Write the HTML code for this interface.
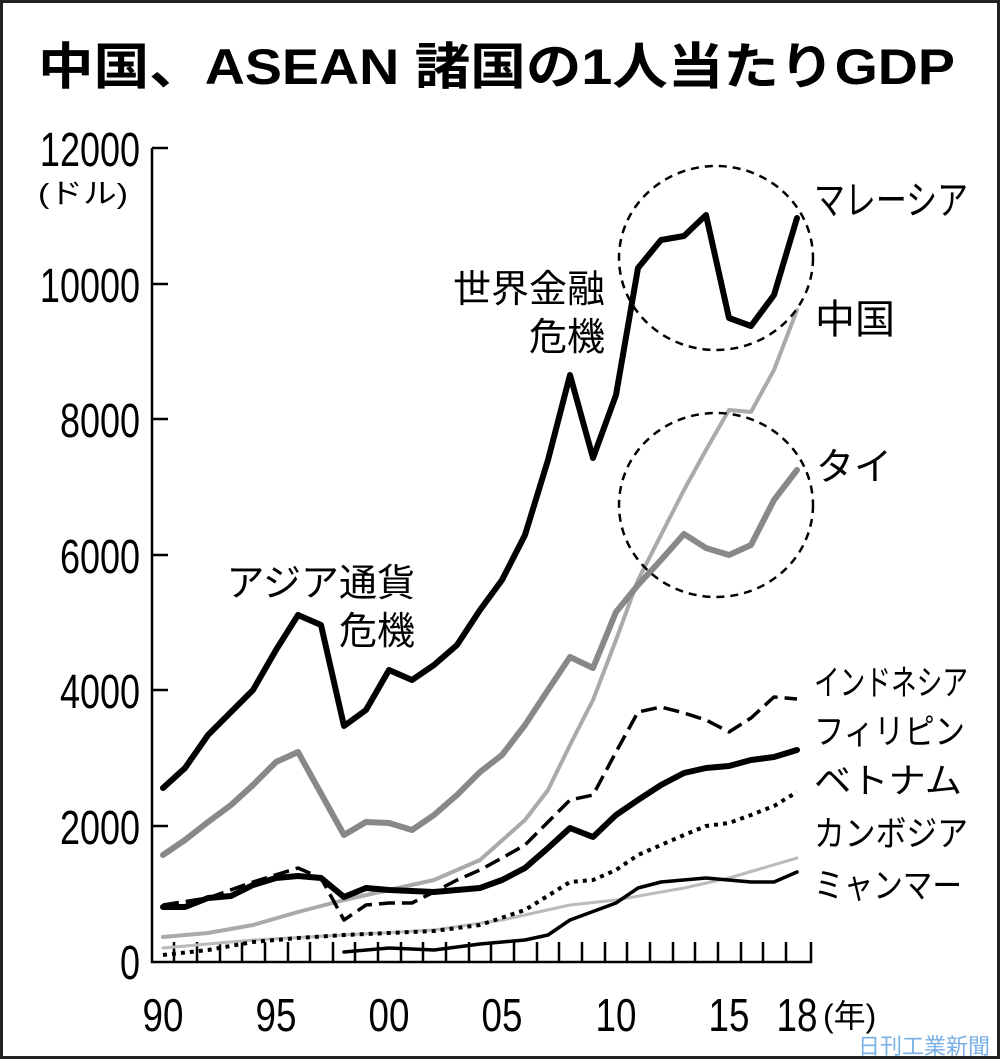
<!DOCTYPE html>
<html><head><meta charset="utf-8"><style>
html,body{margin:0;padding:0;background:#fff}
svg{display:block}
text{font-family:"Liberation Sans","Noto Sans CJK JP",sans-serif;fill:#000}
</style></head><body>
<svg width="1000" height="1062" viewBox="0 0 1000 1062" xmlns="http://www.w3.org/2000/svg">
<rect x="1.5" y="1.5" width="997" height="1056" fill="#fff" stroke="#222" stroke-width="3"/>
<text x="38" y="84" font-size="50" font-weight="bold" textLength="917" lengthAdjust="spacingAndGlyphs">中国、ASEAN 諸国の1人当たりGDP</text>

<g font-size="48" text-anchor="end">
<text x="140" y="166" transform="translate(140 0) scale(0.75 1) translate(-140 0)">12000</text>
<text x="140" y="302" transform="translate(140 0) scale(0.75 1) translate(-140 0)">10000</text>
<text x="140" y="437" transform="translate(140 0) scale(0.75 1) translate(-140 0)">8000</text>
<text x="140" y="573" transform="translate(140 0) scale(0.75 1) translate(-140 0)">6000</text>
<text x="140" y="708" transform="translate(140 0) scale(0.75 1) translate(-140 0)">4000</text>
<text x="140" y="844" transform="translate(140 0) scale(0.75 1) translate(-140 0)">2000</text>
<text x="140" y="979" transform="translate(140 0) scale(0.75 1) translate(-140 0)">0</text>
</g>
<text x="38" y="203" font-size="28" textLength="90" lengthAdjust="spacingAndGlyphs">(ドル)</text>

<g stroke="#000" stroke-width="2.5" fill="none">
<path d="M152 148 V962 H811 V942"/>
<path d="M152 148 H168 M152 284 H168 M152 419 H168 M152 555 H168 M152 690 H168 M152 826 H168"/>
<path d="M174 962v-20M197 962v-20M220 962v-20M242 962v-20M265 962v-20M288 962v-20M310 962v-20M333 962v-20M355 962v-20M378 962v-20M401 962v-20M423 962v-20M446 962v-20M469 962v-20M491 962v-20M514 962v-20M537 962v-20M559 962v-20M582 962v-20M605 962v-20M627 962v-20M650 962v-20M673 962v-20M695 962v-20M718 962v-20M741 962v-20M763 962v-20M786 962v-20"/>
</g>
<g font-size="46" text-anchor="middle">
<text x="163" y="1031" transform="translate(163 0) scale(0.8 1) translate(-163 0)">90</text>
<text x="276" y="1031" transform="translate(276 0) scale(0.8 1) translate(-276 0)">95</text>
<text x="389" y="1031" transform="translate(389 0) scale(0.8 1) translate(-389 0)">00</text>
<text x="502" y="1031" transform="translate(502 0) scale(0.8 1) translate(-502 0)">05</text>
<text x="616" y="1031" transform="translate(616 0) scale(0.8 1) translate(-616 0)">10</text>
<text x="729" y="1031" transform="translate(729 0) scale(0.8 1) translate(-729 0)">15</text>
<text x="797" y="1031" transform="translate(797 0) scale(0.8 1) translate(-797 0)">18</text>
</g>
<text x="823" y="1027" font-size="32">(年)</text>

<g fill="none" stroke-linejoin="round" stroke-linecap="round">
<polyline stroke="#bbb" stroke-width="3" points="163,948 253,940 344,935 434,930 502,920 570,905 616,900 684,888 729,878 797,858"/>
<polyline stroke="#000" stroke-width="3.5" points="344,952 389,948 434,950 480,944 525,940 548,935 570,920 616,903 638,888 661,882 706,878 751,882 774,882 797,872"/>
<polyline stroke="#000" stroke-width="4" stroke-dasharray="4 5" stroke-linecap="butt" points="163,955 208,950 253,942 298,938 344,935 389,933 434,931 480,925 525,910 570,882 593,880 616,870 638,855 661,845 684,835 706,826 729,823 751,815 774,806 797,792"/>
<polyline stroke="#aaa" stroke-width="4" points="163,937 208,933 253,925 298,912 344,900 389,890 434,880 480,860 525,820 548,790 570,745 593,700 616,640 638,580 661,535 684,490 706,450 729,410 751,412 774,370 797,310"/>
<polyline stroke="#000" stroke-width="3.5" stroke-dasharray="16 7" stroke-linecap="butt" points="163,905 208,898 253,882 298,868 321,878 344,920 366,905 389,903 412,903 434,892 457,880 480,870 502,858 525,845 548,822 570,800 593,795 616,752 638,712 661,707 684,713 706,720 729,732 751,718 774,697 797,699"/>
<polyline stroke="#000" stroke-width="6" points="163,907 185,907 208,898 231,896 253,885 276,878 298,876 321,878 344,897 366,888 389,890 434,892 480,888 502,880 525,868 548,848 570,828 593,837 616,815 638,800 661,785 684,773 706,768 729,766 751,760 774,757 797,750"/>
<polyline stroke="#888" stroke-width="6" points="163,855 185,840 208,822 231,805 253,785 276,762 298,752 344,835 366,822 389,823 412,830 434,815 457,795 480,772 502,755 525,725 548,690 570,657 593,668 616,612 638,585 661,560 684,534 706,548 729,555 751,545 774,500 797,470"/>
<polyline stroke="#000" stroke-width="6" points="163,788 185,768 208,735 231,712 253,690 276,650 298,615 321,625 344,726 366,710 389,670 412,680 434,665 457,645 480,610 502,580 525,535 548,460 570,375 593,458 616,395 638,268 661,240 684,236 706,215 729,318 751,326 774,295 797,218"/>
</g>
<g fill="none" stroke="#000" stroke-width="2.5" stroke-dasharray="8 6">
<ellipse cx="716" cy="258" rx="97" ry="92"/>
<ellipse cx="716" cy="505" rx="97" ry="92"/>
</g>

<g font-size="40">
<text x="814" y="214" textLength="154" lengthAdjust="spacingAndGlyphs">マレーシア</text>
<text x="815" y="333">中国</text>
<text x="816" y="480" font-size="38">タイ</text>
</g>
<g font-size="35">
<text x="814" y="695" textLength="154" lengthAdjust="spacingAndGlyphs">インドネシア</text>
<text x="814" y="744" textLength="151" lengthAdjust="spacingAndGlyphs">フィリピン</text>
<text x="814" y="793" textLength="148" lengthAdjust="spacingAndGlyphs">ベトナム</text>
<text x="814" y="846" textLength="154" lengthAdjust="spacingAndGlyphs">カンボジア</text>
<text x="814" y="898" textLength="148" lengthAdjust="spacingAndGlyphs">ミャンマー</text>
</g>
<g font-size="38" text-anchor="end">
<text x="605" y="302">世界金融</text>
<text x="605" y="350">危機</text>
<text x="415" y="596">アジア通貨</text>
<text x="415" y="644">危機</text>
</g>
<text x="990" y="1054" font-size="22" style="fill:#7ab0e8" text-anchor="end">日刊工業新聞</text>
</svg>
</body></html>
